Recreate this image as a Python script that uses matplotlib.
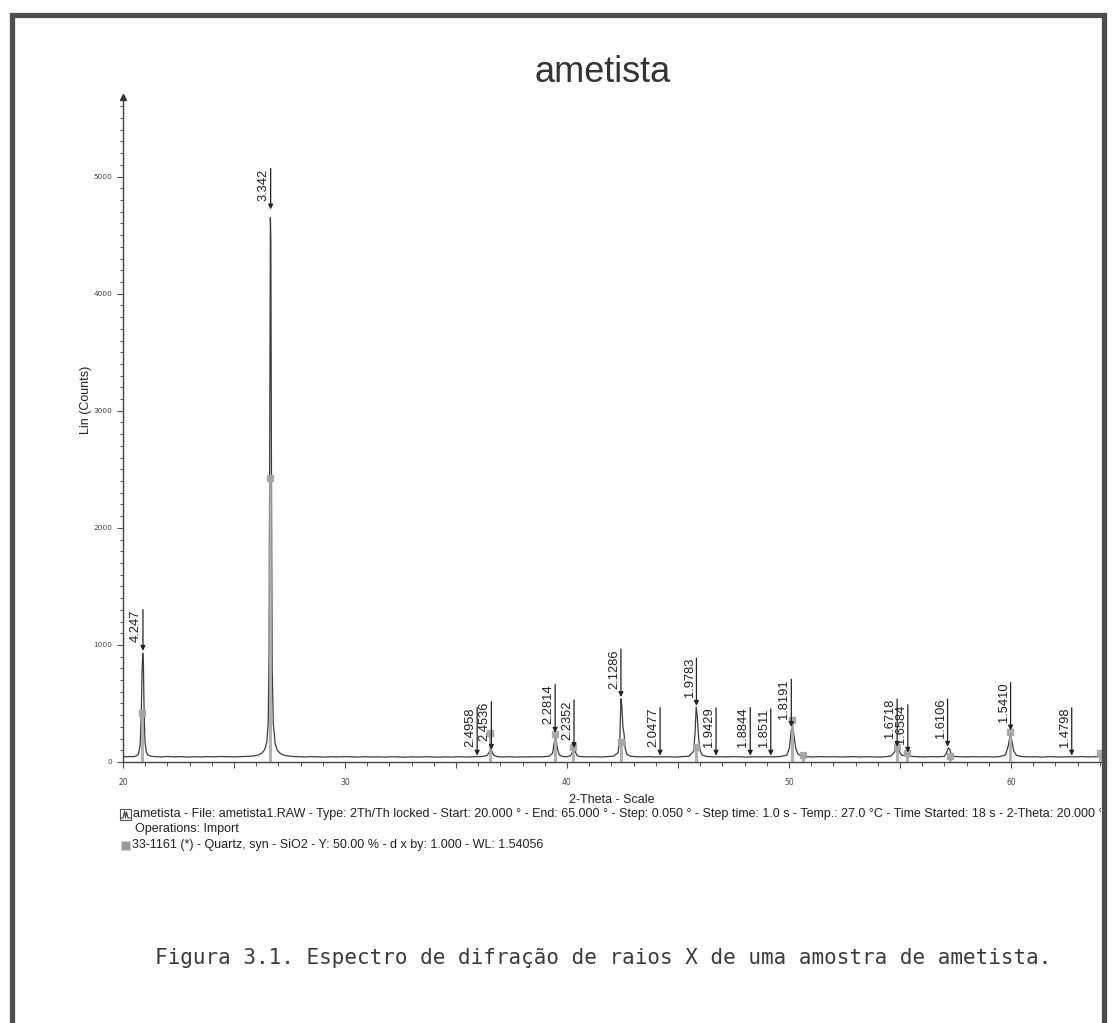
import numpy as np
import matplotlib
matplotlib.use("Agg")
import matplotlib.pyplot as plt
from matplotlib.patches import Rectangle
from matplotlib.ticker import MultipleLocator, FuncFormatter
from matplotlib.textpath import TextPath
from matplotlib.font_manager import FontProperties, fontManager
from matplotlib.transforms import Bbox

# ---- scan data: 2-theta (deg) and intensity (counts) ----
two_theta = [
    20.00, 20.15, 20.30, 20.45, 20.60, 20.70, 20.77, 20.82, 20.86, 20.89,
    20.92, 20.95, 20.99, 21.05, 21.12, 21.25, 21.45, 21.70, 22.00, 22.30,
    22.60, 22.90, 23.20, 23.50, 23.80, 24.10, 24.40, 24.70, 25.00, 25.30,
    25.60, 25.90, 26.10, 26.25, 26.38, 26.48, 26.54, 26.58, 26.61, 26.64,
    26.66, 26.69, 26.72, 26.77, 26.85, 26.95, 27.10, 27.30, 27.60, 27.90,
    28.20, 28.50, 28.80, 29.10, 29.40, 29.70, 30.00, 30.30, 30.60, 30.90,
    31.20, 31.50, 31.80, 32.10, 32.40, 32.70, 33.00, 33.30, 33.60, 33.90,
    34.20, 34.50, 34.80, 35.10, 35.40, 35.70, 35.95, 36.20, 36.40, 36.50,
    36.56, 36.62, 36.70, 36.85, 37.10, 37.40, 37.70, 38.00, 38.30, 38.60,
    38.90, 39.20, 39.35, 39.42, 39.47, 39.52, 39.57, 39.65, 39.80, 40.00,
    40.15, 40.25, 40.31, 40.37, 40.45, 40.60, 40.90, 41.20, 41.50, 41.80,
    42.10, 42.30, 42.38, 42.43, 42.47, 42.52, 42.57, 42.62, 42.70, 42.85,
    43.10, 43.40, 43.70, 44.00, 44.30, 44.60, 44.90, 45.20, 45.50, 45.70,
    45.77, 45.82, 45.87, 45.93, 46.00, 46.10, 46.30, 46.60, 46.90, 47.20,
    47.50, 47.80, 48.10, 48.40, 48.70, 49.00, 49.30, 49.60, 49.90, 50.02,
    50.10, 50.16, 50.22, 50.30, 50.40, 50.55, 50.80, 51.10, 51.40, 51.70,
    52.00, 52.30, 52.60, 52.90, 53.20, 53.50, 53.80, 54.10, 54.40, 54.60,
    54.75, 54.85, 54.92, 55.00, 55.10, 55.25, 55.33, 55.40, 55.50, 55.80,
    56.10, 56.40, 56.70, 57.00, 57.10, 57.17, 57.24, 57.30, 57.40, 57.70,
    58.00, 58.30, 58.60, 58.90, 59.20, 59.50, 59.75, 59.88, 59.96, 60.03,
    60.12, 60.25, 60.50, 60.80, 61.10, 61.40, 61.70, 62.00, 62.30, 62.60,
    62.90, 63.20, 63.50, 63.80, 64.10, 64.40,
]
counts = [
    48, 44, 47, 45, 52, 68, 140, 380, 780, 930,
    840, 430, 170, 85, 60, 50, 46, 43, 47, 44,
    46, 42, 45, 43, 46, 44, 47, 45, 44, 46,
    48, 52, 60, 75, 105, 170, 330, 900, 2700, 4650,
    4450, 2300, 800, 330, 160, 100, 70, 55, 48, 45,
    43, 46, 44, 42, 45, 43, 46, 44, 42, 45,
    43, 44, 42, 45, 43, 41, 44, 42, 45, 43,
    41, 44, 42, 45, 43, 44, 46, 47, 55, 85,
    110, 90, 58, 46, 43, 45, 42, 44, 43, 45,
    44, 50, 75, 160, 210, 175, 115, 62, 47, 45,
    52, 85, 115, 92, 55, 46, 44, 45, 43, 46,
    50, 80, 200, 540, 480, 300, 240, 120, 65, 50,
    45, 44, 46, 43, 45, 44, 42, 46, 50, 90,
    250, 470, 390, 200, 95, 58, 47, 44, 45, 43,
    46, 44, 42, 45, 43, 45, 44, 46, 58, 120,
    270, 300, 230, 120, 70, 50, 45, 43, 46, 44,
    45, 43, 44, 46, 43, 45, 44, 42, 46, 52,
    85, 125, 115, 80, 55, 60, 78, 62, 48, 45,
    43, 46, 44, 48, 80, 120, 110, 70, 48, 45,
    43, 46, 44, 45, 43, 46, 60, 140, 230, 190,
    95, 56, 46, 44, 45, 42, 46, 44, 43, 45,
    44, 46, 43, 45, 44, 46,
]

# ---- peak search results: d-spacings (A) and arrow heights (counts) ----
peak_d = ["4.247", "3.342", "2.4958", "2.4536", "2.2814", "2.2352", "2.1286",
          "2.0477", "1.9783", "1.9429", "1.8844", "1.8511", "1.8191",
          "1.6718", "1.6584", "1.6106", "1.5410", "1.4798"]
peak_counts = [950, 4720, 55, 105, 250, 120, 555,
               55, 480, 55, 55, 55, 300,
               130, 80, 130, 270, 55]

# ---- reference pattern 33-1161 Quartz: 2-theta and scaled stick heights ----
ref_two_theta = [20.86, 26.64, 36.54, 39.47, 40.29, 42.45, 45.79, 50.14,
                 50.62, 54.87, 55.33, 57.24, 59.96, 64.03]
ref_counts = [420, 2430, 250, 240, 125, 175, 125, 360,
              60, 125, 80, 55, 260, 80]

WAVELENGTH = 1.54056  # Cu K-alpha1

W, H = 1115, 1023
fig = plt.figure(figsize=(W / 100, H / 100), dpi=100)
fig.patch.set_facecolor("white")


def fx(px):
    return px / W


def fy(py):
    return 1 - py / H


sans = ["Liberation Sans", "DejaVu Sans"]
avail = {f.name for f in fontManager.ttflist}
narrow = ["Liberation Sans Narrow"] + sans if "Liberation Sans Narrow" in avail else sans

x_left, x_right, y_bottom, y_top = 123, 1106, 762, 97
ax = fig.add_axes([fx(x_left), fy(y_bottom), fx(x_right - x_left), (y_bottom - y_top) / H])
px_per_deg = 22.2
ax.set_xlim(20, 20 + (x_right - x_left) / px_per_deg)
ax.set_ylim(0, 5680)
ax.set_facecolor("none")
for s in ("top", "right"):
    ax.spines[s].set_visible(False)
for s in ("left", "bottom"):
    ax.spines[s].set_color("#444444")
    ax.spines[s].set_linewidth(1.0)

# arrowhead on the intensity axis
ax.plot([20], [5680], marker="^", ms=4.5, color="#333333", clip_on=False, zorder=5)

ax.xaxis.set_major_locator(MultipleLocator(5))
ax.xaxis.set_minor_locator(MultipleLocator(1))
ax.xaxis.set_major_formatter(FuncFormatter(lambda v, p: f"{v:.0f}" if abs(v % 10) < 1e-6 else ""))
ax.yaxis.set_major_locator(MultipleLocator(1000))
ax.yaxis.set_minor_locator(MultipleLocator(100))
ax.tick_params(axis="x", which="major", direction="out", length=4.5, width=0.8,
               color="#555555", labelsize=5.5, labelcolor="#444444", pad=7)
ax.tick_params(axis="x", which="minor", direction="out", length=2.8, width=0.7, color="#555555")
ax.tick_params(axis="y", which="major", direction="out", length=4.5, width=0.8,
               color="#555555", labelsize=5.3, labelcolor="#444444", pad=3)
ax.tick_params(axis="y", which="minor", direction="out", length=2.5, width=0.7, color="#555555")

# measured scan
ax.plot(two_theta, counts, color="#3c3c3c", lw=0.9, zorder=3)

# reference sticks
ax.vlines(ref_two_theta, 0, ref_counts, color="#a5a5a5", lw=2.2, alpha=0.85, zorder=4)
ax.plot(ref_two_theta, ref_counts, ls="none", marker="s", ms=4, color="#a5a5a5",
        alpha=0.9, zorder=4)

# peak markers with d-spacing labels
lab_fs = 9.3
lab_font = FontProperties(family=sans, size=lab_fs)
gap = 6.0
for d_txt, yc in zip(peak_d, peak_counts):
    d = float(d_txt)
    x = 2 * np.degrees(np.arcsin(WAVELENGTH / (2 * d)))
    tlen = TextPath((0, 0), d_txt, prop=lab_font).get_extents().width
    ax.annotate("", xy=(x, yc), xytext=(0, gap + tlen + 1), textcoords="offset points",
                arrowprops=dict(arrowstyle="-|>", color="#222222", lw=0.9,
                                mutation_scale=7, shrinkA=0, shrinkB=0), zorder=6)
    ax.annotate(d_txt, xy=(x, yc), xytext=(-0.6, gap), textcoords="offset points",
                rotation=90, ha="right", va="bottom", fontsize=lab_fs,
                family=sans, color="#222222", zorder=6)

# titles and axis labels
fig.text(fx(603), fy(73), "ametista", ha="center", va="center", fontsize=26,
         family=sans, color="#333333")
fig.text(fx(86), fy(400), "Lin (Counts)", rotation=90, ha="center", va="center",
         fontsize=9, family=sans, color="#222222")
fig.text(fx(612), fy(800), "2-Theta - Scale", ha="center", va="center",
         fontsize=9, family=sans, color="#222222")

# legend block
clip = Bbox([[0, 0], [1101, H]])
t1 = fig.text(fx(133), fy(814),
              "ametista - File: ametista1.RAW - Type: 2Th/Th locked - Start: 20.000 \u00b0 - "
              "End: 65.000 \u00b0 - Step: 0.050 \u00b0 - Step time: 1.0 s - Temp.: 27.0 \u00b0C - "
              "Time Started: 18 s - 2-Theta: 20.000 \u00b0",
              ha="left", va="center", fontsize=9, family=narrow, color="#222222")
t1.set_clip_box(clip)
t1.set_clip_on(True)
fig.text(fx(135), fy(829), "Operations: Import", ha="left", va="center",
         fontsize=9, family=narrow, color="#222222")
fig.text(fx(132), fy(845),
         "33-1161 (*) - Quartz, syn - SiO2 - Y: 50.00 % - d x by: 1.000 - WL: 1.54056",
         ha="left", va="center", fontsize=9, family=narrow, color="#222222")

# legend icons
fig.patches.append(Rectangle((fx(120), fy(820)), fx(11), 11 / H, transform=fig.transFigure,
                             fill=False, ec="#555555", lw=0.8))
wave_x = [121, 123, 124.5, 125.5, 126.5, 128, 130]
wave_y = [818, 818, 811, 818, 812, 818, 818]
fig.add_artist(plt.Line2D([fx(v) for v in wave_x], [fy(v) for v in wave_y],
                          transform=fig.transFigure, color="#444444", lw=0.8))
fig.patches.append(Rectangle((fx(121), fy(850)), fx(9), 9 / H, transform=fig.transFigure,
                             fc="#9a9a9a", ec="#cfcfcf", lw=0.8))

# caption
fig.text(fx(603), fy(958),
         "Figura 3.1. Espectro de difração de raios X de uma amostra de ametista.",
         ha="center", va="center", fontsize=15, family=["DejaVu Sans Mono"], color="#3a3a3a")

# page frame
fig.patches.append(Rectangle((fx(12), fy(1060)), fx(1104 - 12), (1060 - 15) / H,
                             transform=fig.transFigure, fill=False, ec="#4d4d4d", lw=3.8,
                             zorder=10))

fig.savefig("out.png", dpi=100)
